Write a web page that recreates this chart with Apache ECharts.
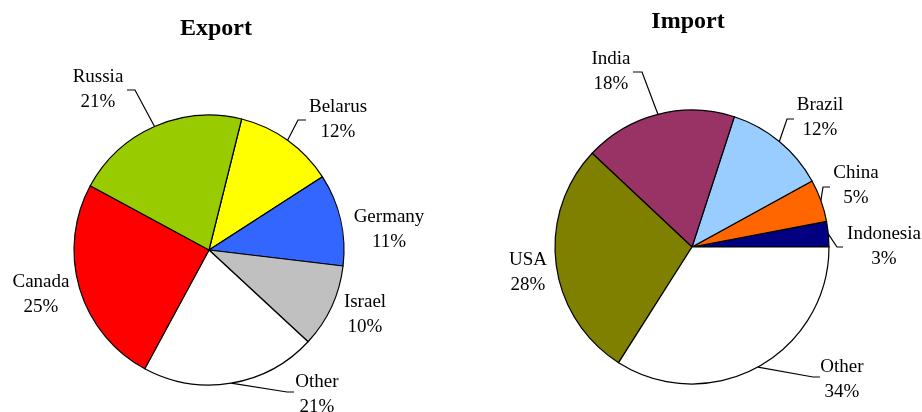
<!DOCTYPE html>
<html>
<head>
<meta charset="utf-8">
<script src="https://cdn.jsdelivr.net/npm/echarts@6/dist/echarts.min.js"></script>
<style>
  html, body { margin: 0; padding: 0; background: #fff; }
  #main { width: 922px; height: 412px; }
</style>
</head>
<body>
<div id="main"></div>
<script>
// data
var exportNames = ['Belarus', 'Germany', 'Israel', 'Other', 'Canada', 'Russia'];
var exportValues = [12, 11, 10, 21, 25, 21];
var importNames = ['Indonesia', 'China', 'Brazil', 'India', 'USA', 'Other'];
var importValues = [3, 5, 12, 18, 28, 34];

// styles
var exportColors = ['#ffff00', '#3366ff', '#c0c0c0', '#ffffff', '#ff0000', '#99cc00'];
var importColors = ['#000080', '#ff6600', '#99ccff', '#993366', '#808000', '#ffffff'];
var serif = '"Times New Roman", "Liberation Serif", serif';

// label placement: [centerX, centerY, bendX, bendY, endX, endY] (no line when bend is null)
var exportLabelPos = [
  [338, 120, 298, 120, 306, 120],
  [389, 230, null],
  [365, 315, null],
  [317, 395, 287, 392, 294, 392],
  [41, 295, null],
  [98, 90, 135, 90, 127, 90]
];
var importLabelPos = [
  [884, 247, 837, 247, 843, 247],
  [856, 186, 823, 187, 830, 187],
  [820, 118, 787, 119, 794, 119],
  [611, 72, 642, 72, 633, 72],
  [528, 273, null],
  [842, 380, 813, 377, 820, 377]
];

function buildData(names, values, colors, pos) {
  return names.map(function (n, i) {
    return {
      name: n,
      value: values[i],
      itemStyle: { color: colors[i] },
      labelLine: { show: pos[i][2] != null }
    };
  });
}

function makeLayout(pos) {
  return function (params) {
    var p = pos[params.dataIndex];
    var res = { x: p[0], y: p[1], align: 'center', verticalAlign: 'middle' };
    if (p[2] != null && params.labelLinePoints) {
      res.labelLinePoints = [params.labelLinePoints[0], [p[2], p[3]], [p[4], p[5]]];
    }
    return res;
  };
}

var seriesBase = {
  type: 'pie',
  avoidLabelOverlap: false,
  animation: false,
  silent: true,
  itemStyle: { borderColor: '#000', borderWidth: 1.2 },
  label: {
    show: true,
    position: 'outside',
    formatter: '{b}\n{c}%',
    color: '#000',
    fontFamily: serif,
    fontSize: 19,
    lineHeight: 25,
    align: 'center'
  },
  labelLine: { show: true, length: 10, length2: 10, lineStyle: { color: '#000', width: 1.2 } }
};

var chart = echarts.init(document.getElementById('main'));
var option = {
  backgroundColor: '#fff',
  title: [
    { text: 'Export', left: 211, top: 12, textAlign: 'center',
      textStyle: { fontFamily: serif, fontWeight: 'bold', fontSize: 24, color: '#000' } },
    { text: 'Import', left: 683, top: 5, textAlign: 'center',
      textStyle: { fontFamily: serif, fontWeight: 'bold', fontSize: 24, color: '#000' } }
  ],
  series: [
    Object.assign({}, seriesBase, {
      name: 'Export',
      center: [209, 250],
      radius: 135,
      startAngle: 76,
      clockwise: true,
      data: buildData(exportNames, exportValues, exportColors, exportLabelPos),
      labelLayout: makeLayout(exportLabelPos)
    }),
    Object.assign({}, seriesBase, {
      name: 'Import',
      center: [692, 247],
      radius: 137,
      startAngle: 0,
      clockwise: false,
      data: buildData(importNames, importValues, importColors, importLabelPos),
      labelLayout: makeLayout(importLabelPos)
    })
  ]
};
chart.setOption(option);
</script>
</body>
</html>
